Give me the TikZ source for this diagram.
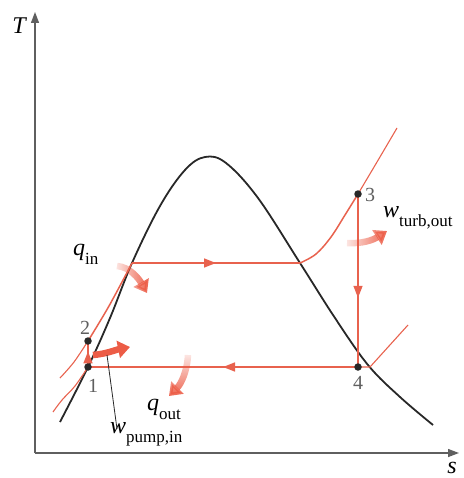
\documentclass[tikz,border=0pt]{standalone}
\usepackage{fontspec}
\setmainfont{Liberation Serif}
\usetikzlibrary{arrows.meta,decorations.markings,fadings}
\definecolor{cyc}{RGB}{232,98,78}
\definecolor{heat}{RGB}{236,92,70}
\definecolor{dome}{RGB}{40,40,40}
\definecolor{axis}{RGB}{95,95,95}
\definecolor{num}{RGB}{95,95,95}
\tikzfading[name=tailleft, left color=transparent!90, middle color=transparent!5, right color=transparent!0]
\tikzfading[name=tailtop, top color=transparent!90, middle color=transparent!5, bottom color=transparent!0]
\newcommand\mysub[1]{\raisebox{-0.38em}{\fontsize{17}{17}\selectfont #1}}
\tikzset{
  lab/.style={font=\fontsize{24}{28}\selectfont, inner sep=0pt},
  numlab/.style={font=\fontsize{20}{24}\selectfont, text=num, inner sep=0pt},
  cycline/.style={draw=cyc, line width=1.5pt},
  thinred/.style={draw=cyc, line width=1.1pt},
  midarrow/.style={postaction={decorate}, decoration={markings,
     mark=at position #1 with {\arrow{Triangle[width=9pt,length=12pt]}}}},
  heatarrow/.style={draw=heat, line width=6.5pt, -{Triangle[width=17pt,length=12pt]}},
  statept/.style={circle, fill=dome, inner sep=0pt, minimum size=7.5pt},
}
\begin{document}
\begin{tikzpicture}[x=1pt,y=-1pt]
\useasboundingbox (0,0) rectangle (463,478);
% axes
\coordinate (o) at (35,453);
\coordinate (ty) at (35,12);
\coordinate (sx) at (459,453);
\draw[axis, line width=1.3pt, -{Triangle[width=8pt,length=11pt]}] (o) -- (ty);
\draw[axis, line width=1.3pt, -{Triangle[width=8pt,length=11pt]}] (o) -- (sx);
\node[lab, font=\fontsize{24}{28}\selectfont\itshape] (T) at (19,26) {T};
\node[lab, font=\fontsize{24}{28}\selectfont\itshape] (s) at (452,468) {s};
% state points
\coordinate (p1) at (88,367);
\coordinate (p2) at (88,341);
\coordinate (p3) at (358,194);
\coordinate (p4) at (358,367);
\coordinate (sl) at (132,263);
\coordinate (sv) at (300,263);
% saturation dome
\draw[dome, line width=1.8pt] plot[smooth, tension=0.6] coordinates {
 (60,422) (88,367) (110,318) (132,263) (160,206) (185,170) (205,157)
 (226,163) (258,198) (300,263) (335,318) (368,365) (400,397) (433,425)};
% cycle
\draw[cycline, midarrow=0.5] (sl) -- (sv);
\draw[cycline] plot[smooth, tension=0.6] coordinates {(300,263) (316,254) (331,237) (345,215) (358,194)};
\draw[thinred] plot[smooth, tension=0.6] coordinates {(358,194) (377,162) (397,128)};
\draw[cycline, midarrow=0.6] (p3) -- (p4);
\draw[cycline, midarrow=0.5] (p4) -- (p1);
\coordinate (e4) at (370,367);
\coordinate (e4b) at (408,325);
\draw[thinred] (p4) -- (e4) -- (e4b);
\draw[cycline, midarrow=0.6] (p1) -- (p2);
\draw[cycline] plot[smooth, tension=0.6] coordinates {(88,341) (109,306) (132,263)};
\draw[thinred] plot[smooth, tension=0.6] coordinates {(60,378) (74,362) (88,341)};
\draw[thinred] plot[smooth, tension=0.6] coordinates {(53,412) (62,400) (75,386) (88,367)};
% heat and work arrows
\coordinate (qa) at (117,266); \coordinate (qb) at (147,293);
\draw[heatarrow, path fading=tailleft] (qa) .. controls (130,267) and (139,279) .. (qb);
\coordinate (wa) at (93,355); \coordinate (wb) at (130,347);
\draw[heatarrow] (wa) .. controls (106,354) and (115,350) .. (wb);
\coordinate (oa) at (188,355); \coordinate (ob) at (169,396);
\draw[heatarrow, path fading=tailtop] (oa) .. controls (187,372) and (181,384) .. (ob);
\coordinate (ta) at (347,243); \coordinate (tb) at (387,231);
\draw[heatarrow, path fading=tailleft] (ta) .. controls (362,244) and (373,240) .. (tb);
% dots
\node[statept] (n1) at (p1) {};
\node[statept] (n2) at (p2) {};
\node[statept] (n3) at (p3) {};
\node[statept] (n4) at (p4) {};
% labels
\node[numlab] (l1) at (93,386) {1};
\node[numlab] (l2) at (85,328) {2};
\node[numlab] (l3) at (370,195) {3};
\node[numlab] (l4) at (358,383) {4};
\node[lab, anchor=base west] (qin) at (73,255) {\textit{q}\mysub{in}};
\node[lab, anchor=base west] (wt) at (383,217) {\textit{w}\mysub{turb,out}};
\node[lab, anchor=base west] (qout) at (147,410) {\textit{q}\mysub{out}};
\node[lab, anchor=base west] (wp) at (110,433) {\textit{w}\mysub{pump,in}};
\coordinate (lp) at (107,355);
\draw[dome, line width=0.8pt] (117,429) -- (lp);
\end{tikzpicture}
\end{document}
